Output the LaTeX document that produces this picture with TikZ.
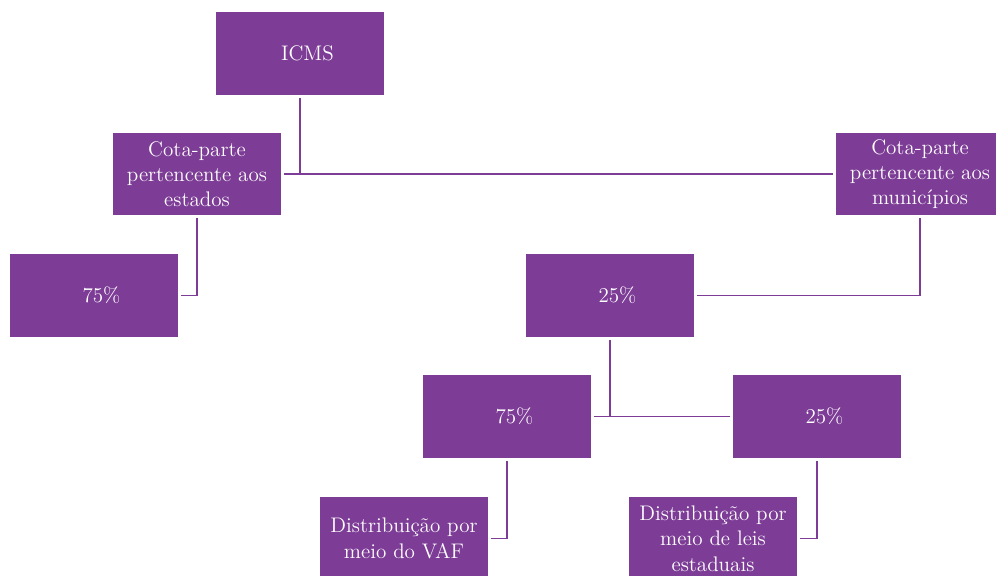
\documentclass[tikz,border=0pt]{standalone}
\usepackage{fontspec}
\usepackage{tikz}
\usetikzlibrary{calc,positioning,arrows.meta}

\definecolor{roxo}{HTML}{7D3C96}

\tikzset{
	caixa/.style={fill=roxo, text=white, minimum width=3.36cm, minimum height=1.66cm,
		align=center, inner sep=2pt, outer sep=0.06cm,
		font=\fontsize{12}{14.4}\selectfont},
	liga/.style={draw=roxo, line width=1.1pt}
}

\begin{document}
\begin{tikzpicture}[x=0.02cm,y=-0.02cm]
		\useasboundingbox (0,0) rectangle (996,575);

		\node[caixa] (icms) at (300,53.5) {\hspace*{0.3cm}ICMS};
		\node[caixa] (estados) at (197,174) {Cota-parte\\pertencente aos\\estados};
		\node[caixa] (municipios) at (920,174) {Cota-parte\\pertencente aos\\municípios};
		\node[caixa] (setenta) at (94,295.5) {\hspace*{0.3cm}75\%};
		\node[caixa] (vinte) at (610,295.5) {\hspace*{0.3cm}25\%};
		\node[caixa] (vaf) at (507,416.5) {\hspace*{0.3cm}75\%};
		\node[caixa] (leis) at (817,416.5) {\hspace*{0.3cm}25\%};
		\node[caixa] (distvaf) at (404,538.5) {Distribuição por\\meio do VAF};
		\node[caixa] (distleis) at (713,538.5) {Distribuição por\\meio de leis\\estaduais};

		\draw[liga] (icms.south) -- (icms.south |- estados.east);
		\draw[liga] (estados.east) -- (municipios.west);
		\draw[liga] (estados.south) |- (setenta.east);
		\draw[liga] (municipios.south) |- (vinte.east);
		\draw[liga] (vinte.south) -- (vinte.south |- vaf.east);
		\draw[liga] (vaf.east) -- (leis.west);
		\draw[liga] (vaf.south) |- (distvaf.east);
		\draw[liga] (leis.south) |- (distleis.east);
	\end{tikzpicture}
\end{document}
